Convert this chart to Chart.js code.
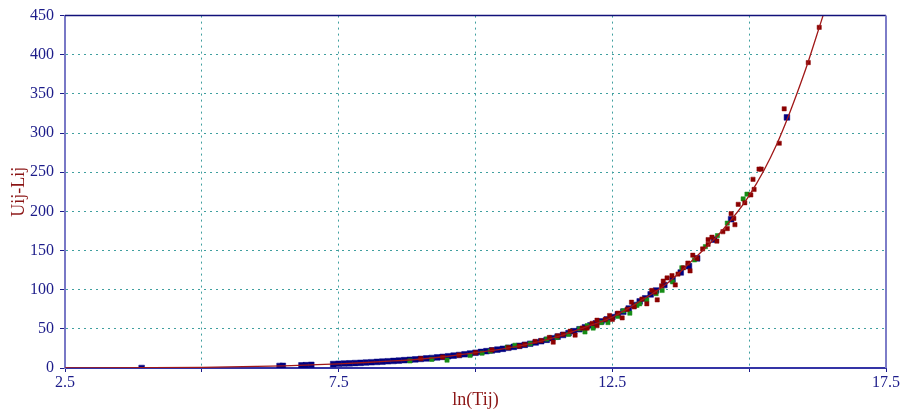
<!DOCTYPE html>
<html>
<head>
<meta charset="utf-8">
<script src="https://cdn.jsdelivr.net/npm/chart.js@4.4.1/dist/chart.umd.min.js"></script>
<style>
  html, body { margin: 0; padding: 0; background: #fff; }
  #wrap { width: 904px; height: 418px; }
</style>
</head>
<body>
<div id="wrap"><canvas id="fitChart"></canvas></div>
<script>
// fitted curve
const curveX = [2.5, 4, 5, 6, 6.5, 7, 7.5, 8, 8.5, 9, 9.5, 10, 10.5, 11, 11.5, 12, 12.5, 13, 13.5, 14, 14.5, 15, 15.5, 16, 16.35];
const curveY = [0, 0.3, 0.8, 2, 2.8, 4, 5.3, 7, 9, 11.5, 15, 19.5, 24.5, 31, 40, 52, 65, 85, 108, 140, 175, 220, 285, 375, 450];

// observed points, three groups
const blueX = [3.9, 6.42, 6.48, 6.82, 6.9, 7.0, 7.4, 7.5, 7.6, 7.7, 7.8, 7.9, 8.0, 8.1, 8.2, 8.3, 8.4, 8.5, 8.6, 8.7, 8.8, 8.9,
  9.0, 9.1, 9.2, 9.3, 9.4, 9.5, 9.6, 9.7, 9.8, 9.9, 10.0, 10.1, 10.2, 10.3, 10.4, 10.5, 10.6, 10.7, 10.8, 10.9,
  11.0, 11.1, 11.2, 11.3, 11.4, 11.5, 11.6, 11.7, 11.8, 11.9, 12.0, 12.1, 12.2, 12.3, 12.4, 12.5, 12.6, 12.7, 12.8, 12.9,
  13.0, 13.1, 13.2, 13.3, 13.45, 13.6, 13.75, 13.9, 14.05, 14.36, 14.67, 15.69];
const blueY = [0, 2.6, 2.7, 3.4, 3.6, 4.0, 5.0, 5.4, 5.7, 6.0, 6.3, 6.6, 7.0, 7.4, 7.8, 8.2, 8.6, 9.0, 9.5, 10.0, 10.5, 11.0,
  11.6, 12.2, 12.8, 13.5, 14.2, 15.0, 15.8, 16.6, 17.5, 18.5, 19.5, 20.5, 21.5, 22.5, 23.5, 24.5, 25.8, 27.0, 28.3, 29.6,
  31.0, 32.6, 34.2, 36.0, 38.0, 40.0, 42.2, 44.5, 47.0, 49.5, 52.0, 54.5, 57.0, 59.5, 62.0, 65.0, 68.5, 72, 76, 80.5,
  85, 89, 94, 99, 106, 113, 122, 130, 140, 164, 190, 320];

const greenX = [8.8, 9.2, 9.48, 9.9, 10.12, 10.27, 10.58, 10.72, 11.0, 11.3, 11.49, 11.7, 11.9, 12.0, 12.04, 12.15, 12.3,
  12.42, 12.6, 12.7, 12.82, 12.95, 13.0, 13.13, 13.3, 13.41, 13.6, 13.77, 14.0, 14.2, 14.42, 14.6, 14.89, 14.96];
const greenY = [9, 11, 10, 16, 19, 21.5, 26.5, 29, 31, 37, 39, 43, 50, 46, 54, 51, 58,
  58, 66, 73, 70, 80, 82, 87, 95, 99, 110, 128, 138, 155, 169, 185, 216, 222];

const redX = [9.0, 9.4, 9.7, 10.0, 10.3, 10.6, 10.8, 10.9, 11.09, 11.2, 11.42, 11.5, 11.6, 11.73, 11.82, 11.95, 12.04, 12.13,
  12.22, 12.22, 12.37, 12.45, 12.5, 12.6, 12.68, 12.77, 12.9, 13.04, 13.13, 13.22, 13.32, 13.4, 13.43, 13.5, 13.59, 13.65,
  13.7, 13.88, 13.92, 13.97, 14.05, 14.25, 14.25, 14.32, 14.41, 14.52, 14.6, 14.67, 14.72, 14.74, 14.8, 14.92,
  15.03, 15.07, 15.09, 15.18, 15.22, 15.55, 15.64, 16.08, 16.28, 11.35, 12.85, 13.28, 13.8, 14.15];
const redY = [12, 14, 16.5, 19.5, 23, 26, 28, 30, 34, 35, 33, 41, 43, 47, 42, 51, 51, 57,
  61, 54, 62, 67, 62, 70, 64, 75, 78, 88, 82, 99, 87, 105, 111, 115, 118, 106,
  120, 134, 124, 144, 140, 164, 158, 167, 162, 174, 178, 197, 191, 183, 209, 211,
  221, 241, 228, 254, 254, 287, 331, 390, 435, 39, 84, 97, 128, 152];

const xLabels = ['2.5', '7.5', '12.5', '17.5'];

const pts = (xs, ys) => xs.map((x, i) => ({ x: x, y: ys[i] }));

const serif = '"Liberation Serif", "DejaVu Serif", serif';
const teal = '#3f9f9f';
const navy = '#1c1c8a';
const darkRed = '#8b1414';

// top and right frame lines
const frame = {
  id: 'frame',
  afterDraw(chart) {
    const a = chart.chartArea, ctx = chart.ctx;
    ctx.save();
    ctx.lineWidth = 1.5;
    ctx.strokeStyle = '#10107a';
    ctx.beginPath();
    ctx.moveTo(a.left, a.top);
    ctx.lineTo(a.right, a.top);
    ctx.stroke();
    ctx.lineWidth = 2;
    ctx.strokeStyle = '#7d7dc8';
    ctx.beginPath();
    ctx.moveTo(a.right, a.top);
    ctx.lineTo(a.right, a.bottom);
    ctx.stroke();
    ctx.restore();
  }
};

new Chart(document.getElementById('fitChart'), {
  type: 'scatter',
  data: {
    datasets: [
      {
        type: 'line',
        data: pts(curveX, curveY),
        borderColor: '#a01818',
        borderWidth: 1.3,
        pointRadius: 0,
        cubicInterpolationMode: 'monotone',
        fill: false,
        order: 0
      },
      {
        data: pts(redX, redY),
        backgroundColor: '#8b0000',
        borderColor: '#8b0000',
        borderWidth: 0.5,
        pointStyle: 'rect',
        pointRadius: 3,
        order: 1
      },
      {
        data: pts(greenX, greenY),
        backgroundColor: '#168c16',
        borderColor: '#168c16',
        borderWidth: 0.5,
        pointStyle: 'rect',
        pointRadius: 3,
        order: 2
      },
      {
        data: pts(blueX, blueY),
        backgroundColor: '#000080',
        borderColor: '#000080',
        borderWidth: 0.5,
        pointStyle: 'rect',
        pointRadius: 4,
        order: 3
      }
    ]
  },
  options: {
    responsive: true,
    maintainAspectRatio: false,
    animation: false,
    layout: { padding: { left: 0, right: 18, top: 12, bottom: 0 } },
    plugins: { legend: { display: false }, tooltip: { enabled: false } },
    scales: {
      x: {
        type: 'linear',
        min: 2.5,
        max: 17.5,
        afterFit: s => { s.height = 50; },
        ticks: {
          stepSize: 2.5,
          autoSkip: false,
          maxRotation: 0,
          padding: 1,
          color: navy,
          font: { family: serif, size: 16 },
          callback: v => {
            const t = String(v);
            return xLabels.includes(t) ? t : '';
          }
        },
        grid: {
          color: c => (c.tick && (c.tick.value === 2.5 || c.tick.value === 17.5)) ? 'rgba(0,0,0,0)' : teal,
          tickColor: navy,
          tickLength: 4,
          lineWidth: 1
        },
        border: { color: '#3434a6', width: 2, dash: [2, 4] },
        title: {
          display: true,
          text: 'ln(Tij)',
          color: darkRed,
          font: { family: serif, size: 18 },
          padding: { top: 0, bottom: 7 }
        }
      },
      y: {
        min: 0,
        max: 450,
        afterFit: s => { s.width = 65; },
        ticks: {
          stepSize: 50,
          padding: 6,
          color: navy,
          font: { family: serif, size: 16 }
        },
        grid: {
          color: c => (c.tick && (c.tick.value === 0 || c.tick.value === 450)) ? 'rgba(0,0,0,0)' : teal,
          tickColor: navy,
          tickLength: 5,
          lineWidth: 1
        },
        border: { color: '#7878c6', width: 2, dash: [2, 4] },
        title: {
          display: true,
          text: 'Uij-Lij',
          color: darkRed,
          font: { family: serif, size: 18 },
          padding: { top: 8, bottom: 0 }
        }
      }
    }
  },
  plugins: [frame]
});
</script>
</body>
</html>
